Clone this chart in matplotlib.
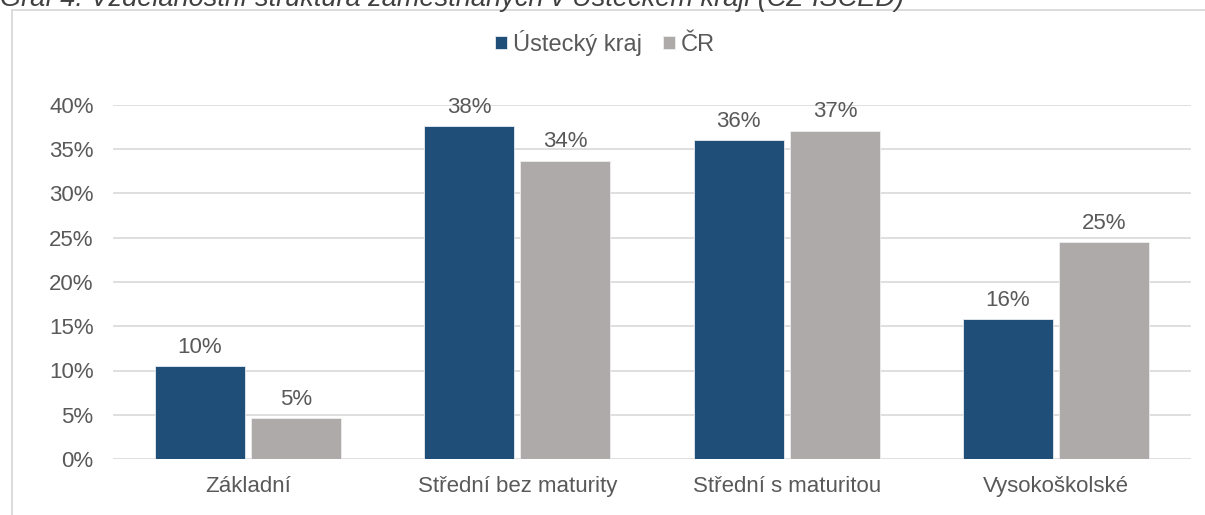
import matplotlib.pyplot as plt
from matplotlib.patches import Rectangle
import numpy as np

plt.rcParams['font.family'] = ['Liberation Sans', 'DejaVu Sans']

categories = ['Základní', 'Střední bez maturity', 'Střední s maturitou', 'Vysokoškolské']
ustecky = [10.5, 37.6, 36.0, 15.8]
cr = [4.6, 33.7, 37.1, 24.5]
labels_ustecky = ['10%', '38%', '36%', '16%']
labels_cr = ['5%', '34%', '37%', '25%']
series_names = ['Ústecký kraj', 'ČR']

blue = '#1F4E79'
gray = '#AEAAAA'
txt = '#595959'
grid = '#D9D9D9'

fig = plt.figure(figsize=(12.05, 5.15), dpi=100)

# outer chart frame (cut at right / bottom)
fig.patches.append(Rectangle((12 / 1205, -0.1), 1.2, 1 - 10 / 515 + 0.1,
                             transform=fig.transFigure, fill=False,
                             edgecolor=grid, linewidth=1.3))

fig.text(0.0, 1 - 6 / 515,
         'Graf 4: Vzdělanostní struktura zaměstnaných v Ústeckém kraji (CZ-ISCED)',
         fontsize=19.5, style='italic', color='#404040', va='baseline', ha='left')

ax = fig.add_axes([113 / 1205, 1 - 459 / 515, (1191 - 113) / 1205, (459 - 105) / 515])

x = np.arange(len(categories))
w = 0.334
off = 0.179
b1 = ax.bar(x - off, ustecky, w, color=blue, edgecolor='#E8ECF0', linewidth=0.6,
            label=series_names[0], zorder=3)
b2 = ax.bar(x + off, cr, w, color=gray, edgecolor='#EEEEEE', linewidth=0.6,
            label=series_names[1], zorder=3)

for bars, labs in ((b1, labels_ustecky), (b2, labels_cr)):
    for r, lab in zip(bars, labs):
        ax.annotate(lab, (r.get_x() + r.get_width() / 2, r.get_height()),
                    xytext=(0, 6), textcoords='offset points', ha='center',
                    va='bottom', fontsize=16, color=txt)

ax.set_xlim(-0.5, 3.5)
ax.set_ylim(0, 40)
ax.set_yticks(np.arange(0, 41, 5))
ax.set_yticklabels([f'{v}%' for v in range(0, 41, 5)])
ax.set_xticks(x)
ax.set_xticklabels(categories)
ax.tick_params(axis='both', length=0, labelsize=16, labelcolor=txt)
ax.tick_params(axis='y', pad=14)
ax.tick_params(axis='x', pad=12)
ax.yaxis.grid(True, color=grid, linewidth=1.2, zorder=0)
for s in ax.spines.values():
    s.set_visible(False)

leg = fig.legend(handles=[b1, b2], loc='center', bbox_to_anchor=(0.502, 1 - 43 / 515),
                 ncol=2, frameon=False, fontsize=17, handlelength=0.5,
                 handleheight=0.5, handletextpad=0.25, columnspacing=0.9,
                 prop={'family': ['Liberation Sans Narrow', 'Liberation Sans'], 'size': 17})
for t in leg.get_texts():
    t.set_color(txt)

fig.savefig('out.png', dpi=100)
